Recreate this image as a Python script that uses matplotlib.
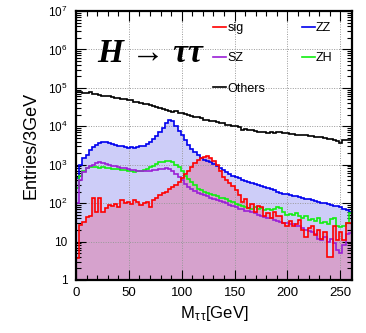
import numpy as np
import matplotlib
matplotlib.use("Agg")
import matplotlib.pyplot as plt
from matplotlib.ticker import FuncFormatter, LogLocator, MultipleLocator

plt.rcParams["font.family"] = ["Liberation Sans", "DejaVu Sans"]
plt.rcParams["mathtext.fontset"] = "custom"
plt.rcParams["mathtext.rm"] = "Liberation Sans"
plt.rcParams["mathtext.it"] = "Liberation Sans:italic"
plt.rcParams["mathtext.bf"] = "Liberation Sans:bold"

# ---- data: entries per 3 GeV bin, M_tautau from 0 to 261 GeV ----
bin_width = 3
n_bins = 87

others = [
    76000, 78000, 75000, 74000, 76000, 71000, 70000, 66000, 63000, 62000,
    60000, 57000, 56000, 55000, 52000, 51000, 49000, 48000, 44000, 42000,
    41000, 39000, 37000, 35000, 34000, 31000, 29500, 27500, 26500, 25000,
    24000, 24500, 22000, 22500, 20500, 19500, 18500, 17500, 17000, 16000,
    15000, 14500, 13800, 13500, 12800, 12500, 12000, 11000, 10800, 10400,
    10000, 9500, 8000, 8500, 7900, 7800, 7500, 7200, 6900, 7100,
    6800, 7000, 6700, 7000, 6900, 6600, 6500, 6300, 6200, 6000,
    6100, 5800, 5900, 5600, 5700, 5400, 5300, 5200, 5000, 4800,
    4600, 4500, 4100, 3700, 4300, 4400, 4500,
]

zz = [
    450, 1000, 1500, 1800, 2400, 2900, 3300, 3700, 3900, 3850,
    3700, 3500, 3350, 3150, 3000, 2900, 2800, 2850, 2800, 2900,
    3000, 3150, 3400, 3900, 4700, 5600, 7000, 9000, 12000, 14800,
    13500, 10000, 7500, 5800, 4300, 3300, 2600, 2100, 1800, 1500,
    1350, 1250, 1200, 1050, 950, 820, 730, 650, 560, 500,
    470, 440, 400, 380, 350, 340, 310, 290, 280, 260,
    250, 230, 215, 200, 185, 175, 170, 165, 155, 150,
    145, 140, 130, 125, 118, 112, 108, 103, 100, 95,
    90, 85, 82, 78, 70, 65, 60,
]

sz = [
    100, 400, 650, 800, 900, 1000, 1100, 1150, 1100, 1050,
    1000, 950, 900, 870, 830, 800, 760, 740, 720, 700,
    690, 680, 690, 700, 720, 740, 760, 790, 800, 780,
    700, 580, 470, 390, 320, 270, 240, 210, 185, 170,
    160, 150, 140, 130, 120, 112, 105, 98, 90, 85,
    78, 72, 70, 64, 62, 58, 55, 50, 47, 44,
    42, 40, 37, 35, 32, 30, 31, 29, 28, 26,
    25, 22, 20, 19, 18, 16, 12, 11, 13, 10,
    12, 9, 6, 5, 8, 16, 17,
]

zh = [
    250, 500, 700, 800, 850, 880, 850, 830, 860, 820,
    800, 780, 790, 760, 740, 720, 700, 680, 660, 680,
    700, 720, 780, 850, 950, 1050, 1150, 1200, 1250, 1270,
    1200, 1000, 850, 680, 520, 420, 350, 300, 240, 220,
    200, 180, 175, 160, 150, 140, 135, 125, 115, 105,
    95, 90, 85, 80, 75, 72, 78, 70, 74, 68,
    72, 65, 70, 80, 75, 60, 48, 52, 50, 55,
    47, 40, 45, 36, 38, 35, 42, 30, 32, 28,
    38, 40, 25, 24, 26, 30, 55,
]

sig = [
    3.7, 27, 33, 43, 46, 135, 60, 135, 60, 75,
    89, 85, 95, 80, 120, 100, 110, 95, 120, 105,
    89, 100, 105, 81, 120, 135, 162, 180, 200, 230,
    270, 300, 360, 440, 575, 700, 890, 1100, 1320, 1500,
    1620, 1650, 1480, 1250, 980, 700, 490, 400, 330, 280,
    220, 160, 110, 130, 74, 95, 60, 85, 80, 45,
    55, 40, 60, 45, 45, 30, 25, 35, 25, 28,
    36, 20, 13.5, 22, 25, 15, 20, 12, 18, 4,
    4, 25, 11, 18, 11, 30, 30,
]

edges = np.arange(n_bins + 1) * bin_width

# ---- figure ----
fig = plt.figure(figsize=(3.66, 3.33), dpi=100)
ax = fig.add_axes([0.2077, 0.1592, 0.7540, 0.8078])
ax.set_yscale("log")

# filled areas
ax.stairs(zz, edges, fill=True, baseline=1, color="#cdcdf8", zorder=1)
ax.stairs(sig, edges, fill=True, baseline=1, color="#d6a2cd", zorder=1.1)

# outlines
lw = 1.2
h_sig = ax.stairs(sig, edges, baseline=None, color="#ff0000", lw=lw, zorder=3.5, label="sig")
h_zz = ax.stairs(zz, edges, baseline=None, color="#0000ee", lw=lw, zorder=3, label="ZZ")
h_sz = ax.stairs(sz, edges, baseline=None, color="#9a1fd6", lw=lw, zorder=3.2, label="SZ")
h_zh = ax.stairs(zh, edges, baseline=None, color="#11ee11", lw=lw, zorder=3.1, label="ZH")
h_oth = ax.stairs(others, edges, baseline=None, color="black", lw=lw, zorder=3.6, label="Others")

ax.set_xlim(0, n_bins * bin_width)
ax.set_ylim(1, 1e7)

# grid above the fills
ax.grid(True, which="major", color="#999999", ls=(0, (1, 1.5)), lw=0.7, zorder=2)
ax.set_axisbelow(False)

ax.xaxis.set_major_locator(MultipleLocator(50))
ax.xaxis.set_minor_locator(MultipleLocator(10))
ax.yaxis.set_major_locator(LogLocator(base=10, numticks=10))
ax.yaxis.set_minor_locator(LogLocator(base=10, subs=np.arange(2, 10), numticks=20))


def ylab(v, pos):
    e = int(round(np.log10(v)))
    if e == 0:
        return "1"
    if e == 1:
        return "10"
    return r"$10^{%d}$" % e


ax.yaxis.set_major_formatter(FuncFormatter(ylab))
ax.tick_params(which="both", direction="in", top=True, right=True, width=0.8)
ax.tick_params(which="major", length=7)
ax.tick_params(which="minor", length=3.5)
ax.tick_params(axis="x", labelsize=9.5, pad=5)
ax.tick_params(axis="y", labelsize=8.5, pad=6)
for s in ax.spines.values():
    s.set_linewidth(1.6)
    s.set_zorder(5)

ax.set_xlabel(r"M$_{\mathrm{τ\,τ}}$[GeV]", fontsize=12, labelpad=4)
ax.set_ylabel("Entries/3GeV", fontsize=13, labelpad=6)

ax.legend(
    handles=[h_sig, h_sz, h_oth, h_zz, h_zh],
    ncol=2, loc="upper left", bbox_to_anchor=(0.497, 0.958),
    frameon=False, fontsize=9, handlelength=1.05, handletextpad=0.1,
    labelspacing=1.45, columnspacing=2.9, borderpad=0, borderaxespad=0,
)

ax.text(0.076, 0.81, "H → ττ", transform=ax.transAxes, fontsize=24,
        fontweight="bold", style="italic",
        family=["Liberation Serif", "DejaVu Serif"], va="baseline", zorder=6)

fig.savefig("out.png", dpi=100)
